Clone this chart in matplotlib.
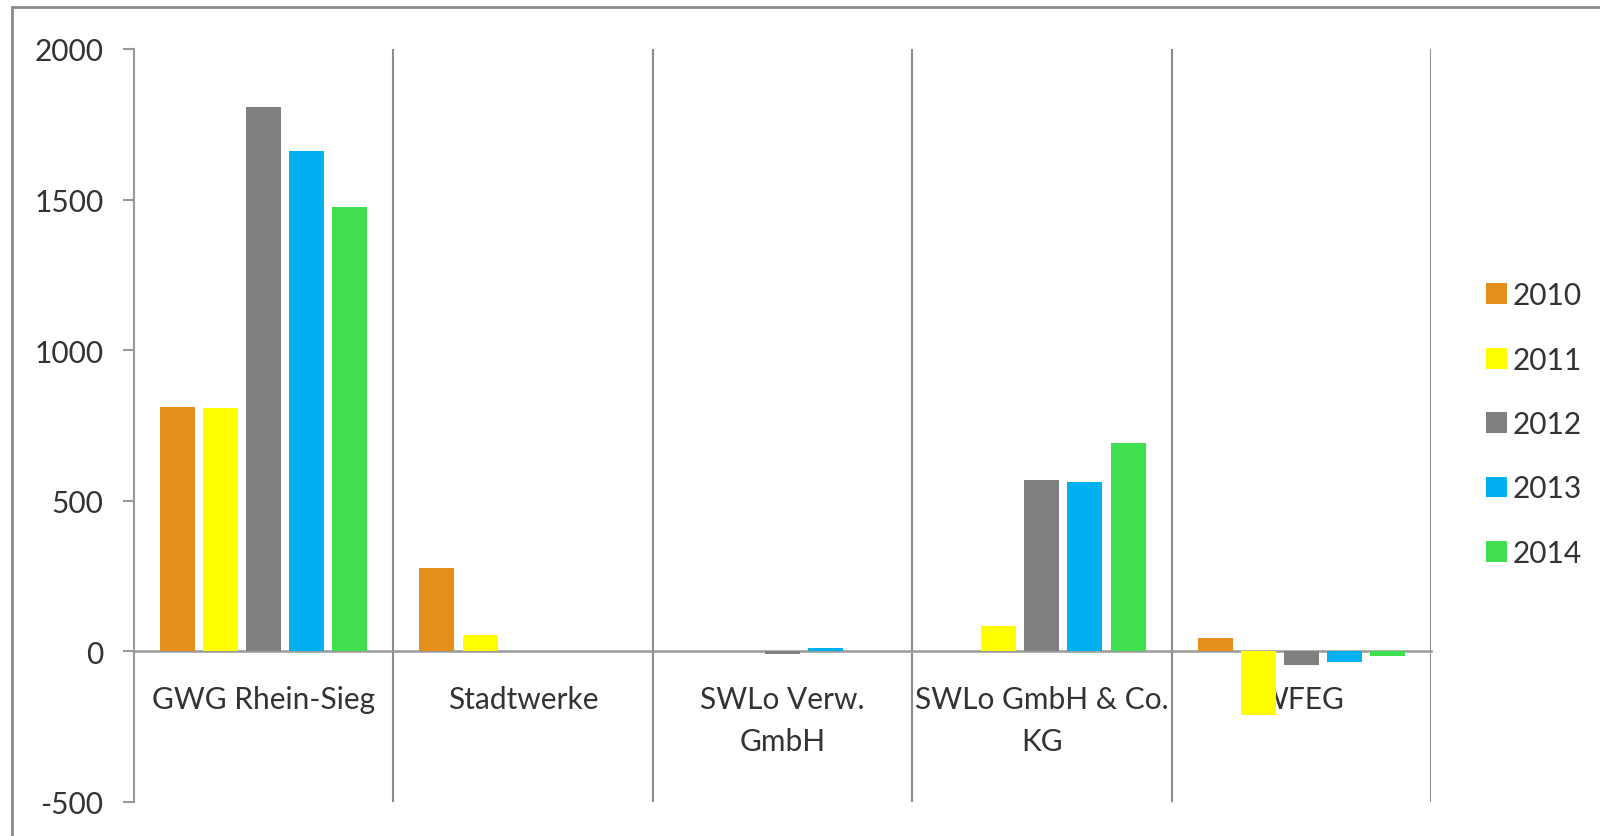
import numpy as np
import matplotlib.pyplot as plt
from matplotlib.patches import Rectangle

plt.rcParams['font.family'] = ['Lato', 'DejaVu Sans']
plt.rcParams['axes.unicode_minus'] = False

companies = ['GWG Rhein-Sieg', 'Stadtwerke', 'SWLo Verw.\nGmbH', 'SWLo GmbH & Co.\nKG', 'WFEG']
years = ['2010', '2011', '2012', '2013', '2014']
v2010 = [810, 278, 0, 0, 43]
v2011 = [808, 55, 0, 84, -210]
v2012 = [1808, 0, -8, 568, -44]
v2013 = [1663, 0, 10, 562, -34]
v2014 = [1477, 0, 0, 692, -14]
colors = ['#E48F1B', '#FFFF00', '#808080', '#00B0F0', '#40DF4E']

series = [v2010, v2011, v2012, v2013, v2014]
x = np.arange(len(companies))
step = 0.166
width = 0.135
fs = 21.5

fig = plt.figure(figsize=(16, 8.37), dpi=100)
ax = fig.add_axes([134/1600, 1-803/837, (1431-134)/1600, (803-50)/837])

for k, vals in enumerate(series):
    ax.bar(x + (k-2)*step, vals, width, color=colors[k], label=years[k], zorder=3)

ax.set_xlim(-0.5, 4.5)
ax.set_ylim(-500, 2000)
ax.set_yticks([-500, 0, 500, 1000, 1500, 2000])

ax.spines['top'].set_visible(False)
ax.spines['right'].set_visible(False)
ax.spines['bottom'].set_position(('data', 0))
ax.spines['bottom'].set_color('#9a9a9a')
ax.spines['bottom'].set_linewidth(1.8)
ax.spines['left'].set_color('#9a9a9a')
ax.spines['left'].set_linewidth(1.5)

ax.set_xticks(x)
ax.set_xticklabels(companies, linespacing=1.6)
ax.set_xticks(np.arange(0.5, 5, 1), minor=True)
ax.tick_params(axis='x', which='both', length=0, pad=24, labelsize=fs, labelcolor='#333333')
ax.tick_params(axis='y', length=8, width=1.5, color='#9a9a9a', pad=14, labelsize=fs, labelcolor='#333333')
ax.grid(which='minor', axis='x', color='#8c8c8c', linewidth=1.5)

ax.legend(loc='center left', bbox_to_anchor=(1486/1600, 1-425/837), bbox_transform=fig.transFigure,
          frameon=False, fontsize=fs, handlelength=0.7, handleheight=0.7, handletextpad=0.2,
          labelspacing=1.22, borderpad=0, borderaxespad=0, labelcolor='#333333')

fig.patches.append(Rectangle((12/1600, -0.1), 1.2, 1.1 - 8/837, transform=fig.transFigure,
                             fill=False, edgecolor='#8a8a8a', linewidth=2))

fig.savefig('out.png', dpi=100)
